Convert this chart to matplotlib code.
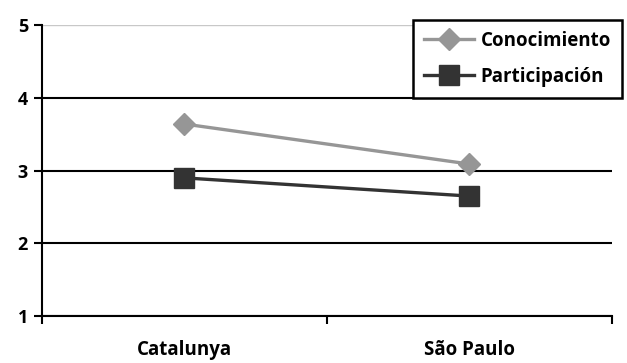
import matplotlib
matplotlib.use("Agg")
import matplotlib.pyplot as plt

plt.rcParams["font.family"] = ["Open Sans", "DejaVu Sans"]
plt.rcParams["font.weight"] = "bold"

categories = ["Catalunya", "São Paulo"]
conocimiento = [3.64, 3.09]
participacion = [2.90, 2.65]
y_ticks = [1, 2, 3, 4, 5]

fig = plt.figure(figsize=(6.27, 3.63), dpi=100)
ax = fig.add_axes([0.067, 0.129, 0.909, 0.802])

xs = list(range(len(categories)))
ax.plot(xs, conocimiento, color="#969696", linewidth=2.4, marker="D",
        markersize=11, label="Conocimiento", zorder=3)
ax.plot(xs, participacion, color="#333333", linewidth=2.4, marker="s",
        markersize=14, label="Participación", zorder=3)

ax.set_xlim(-0.5, len(categories) - 0.5)
ax.set_ylim(1, 5)
ax.set_yticks(y_ticks)
ax.tick_params(axis="y", length=6, width=1.5, labelsize=13, pad=4)

# category boundaries as major ticks, labels on minor ticks at centres
ax.set_xticks([i - 0.5 for i in range(len(categories) + 1)])
ax.set_xticklabels([])
ax.set_xticks(xs, minor=True)
ax.set_xticklabels(categories, minor=True, fontsize=13.5, fontweight="bold")
ax.tick_params(axis="x", which="major", length=6, width=1.5)
ax.tick_params(axis="x", which="minor", length=0, pad=17)

ax.yaxis.grid(True, color="black", linewidth=1.5)
ax.get_ygridlines()[-1].set_color("#c8c8c8")
ax.get_ygridlines()[-1].set_linewidth(1)
ax.set_axisbelow(True)

for side in ("top", "right"):
    ax.spines[side].set_visible(False)
for side in ("left", "bottom"):
    ax.spines[side].set_linewidth(1.5)

leg = fig.legend(loc="upper right", bbox_to_anchor=(0.992, 0.945),
                 fancybox=False, framealpha=1, edgecolor="black",
                 fontsize=13.5, handlelength=2.7, handletextpad=0.35,
                 borderpad=0.58, labelspacing=0.85, borderaxespad=0)
leg.get_frame().set_linewidth(1.8)
for t in leg.get_texts():
    t.set_fontweight("bold")

fig.savefig("out.png", dpi=100)
